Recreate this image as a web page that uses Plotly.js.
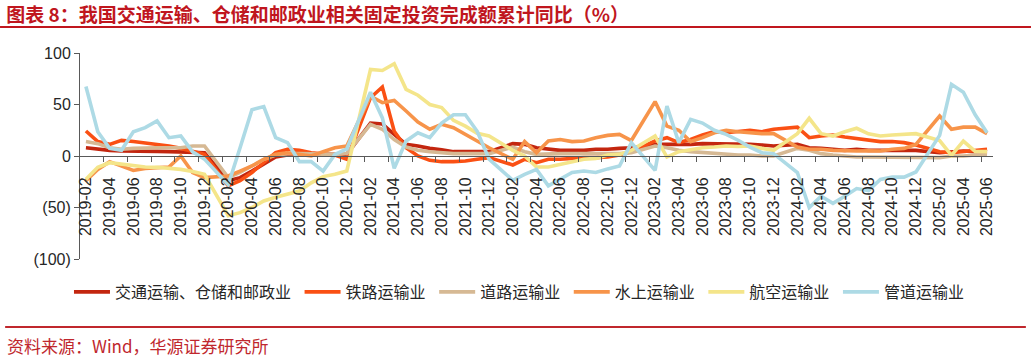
<!DOCTYPE html>
<html>
<head>
<meta charset="utf-8">
<script src="https://cdn.plot.ly/plotly-3.0.1.min.js"></script>
<style>
html,body{margin:0;padding:0;background:#fff;}
#chart{width:1031px;height:360px;}
</style>
</head>
<body>
<div id="chart"></div>
<script>
// Months (January values are not published: null)
const months = [
 "2019-02","2019-03","2019-04","2019-05","2019-06","2019-07","2019-08","2019-09","2019-10","2019-11","2019-12",
 "2020-01","2020-02","2020-03","2020-04","2020-05","2020-06","2020-07","2020-08","2020-09","2020-10","2020-11","2020-12",
 "2021-01","2021-02","2021-03","2021-04","2021-05","2021-06","2021-07","2021-08","2021-09","2021-10","2021-11","2021-12",
 "2022-01","2022-02","2022-03","2022-04","2022-05","2022-06","2022-07","2022-08","2022-09","2022-10","2022-11","2022-12",
 "2023-01","2023-02","2023-03","2023-04","2023-05","2023-06","2023-07","2023-08","2023-09","2023-10","2023-11","2023-12",
 "2024-01","2024-02","2024-03","2024-04","2024-05","2024-06","2024-07","2024-08","2024-09","2024-10","2024-11","2024-12",
 "2025-01","2025-02","2025-03","2025-04","2025-05","2025-06"
];

const totalTransport = [
 8, 6.5, 5.5, 4.9, 4.5, 4.5, 4.5, 4.2, 4, 3.8, 3.2,
 null, -24, -21, -14.6, -7.4, -1, 1, 1.6, 1.6, 1.6, 1.6, 1.6,
 null, 32, 31, 21, 11.3, 9.7, 7.4, 6, 4.2, 4.2, 4.2, 4.2,
 null, 12, 11.3, 8, 6.5, 5.5, 5.5, 5.5, 6.5, 6.5, 7.4, 8,
 null, 11.3, 11.3, 10.7, 11.3, 12, 12, 12, 12, 11.3, 10.7, 9.7,
 null, 11.3, 8, 7.4, 6.5, 5.5, 6.5, 5.5, 5.5, 5.5, 5.5, 5.5,
 null, 3.2, 4.2, 4.9, 4.2, 4.2
];
const railway = [
 24.3, 14, 11.3, 15.2, 14, 12.6, 11.3, 9.7, 7.4, 4.9, 1.6,
 null, -29, -24, -16, -6.5, 3.2, 6.5, 5.5, 3.2, 2.3, 1, -3.2,
 null, 56.6, 67, 24, 8, 0, -4.2, -5.5, -5.5, -4.9, -3.2, -1.6,
 null, -8.7, -3.2, -6.5, -3.2, -3.2, -2.3, -1.6, -1.6, -1, 1, 4.2,
 null, 14.6, 17.8, 13, 16, 20.4, 23.6, 22.6, 23.6, 25, 23.6, 26,
 null, 28, 17.8, 19.4, 20.4, 18.4, 17, 15, 14, 14, 13, 10.7,
 null, 4.2, 3.2, 4.2, 4.9, 6.5
];
const road = [
 14, 12, 8, 6.5, 7.4, 8, 8, 8, 8, 9.7, 9.7,
 null, -21, -16, -9.7, -3.2, 1, 2.3, 2.3, 2.3, 1.6, 1.6, 2.5,
 null, 30.7, 26, 16, 8.7, 5.5, 4.2, 3.2, 2.3, 2.3, 2.3, 2.3,
 null, 8.7, 4.2, 1.6, 2.3, 2.3, 2.3, 2.3, 2.3, 1.6, 2.3, 3.2,
 null, 9.7, 8, 5.5, 4.2, 3.2, 2.3, 1.6, 1, 1, 0, 0,
 null, 7.4, 5.5, 2.3, 1, 0, -1, -1, -1, -1, -1, -1,
 null, -1.6, 0, 0, 1, 1
];
const water = [
 -24, -13, -5.5, -9.7, -14, -12, -11.3, -10.7, 0, -16, -21,
 null, -19.4, -14.6, -9.7, -3.2, 1.6, 3.2, 1.6, 0, 4.2, 8, 9.7,
 null, 58, 51.8, 54, 43.7, 33, 26, 30.7, 27.5, 21, 14.6, 8,
 null, -3.2, 14, 3.2, 14.6, 16, 14, 14.6, 17.8, 20, 21, 15,
 null, 52.8, 29, 25, 14, 17.8, 22.6, 25, 23.6, 22.6, 21.7, 21.7,
 null, 8.7, 6.5, 6.5, 5.5, 4.9, 4.9, 5, 4.9, 6.5, 7.4, 11.3,
 null, 38.8, 26, 28, 28, 21.7
];
const aviation = [
 -22.6, -11, -6.5, -8, -8.7, -10.7, -11, -12, -13, -15, -17.8,
 null, -58, -55, -50, -43.7, -40, -37, -34, -26, -20, -17.8, -14.5,
 null, 84, 83, 89.6, 64.7, 59, 50, 47, 34.6, 29, 22, 19.4,
 null, 5.5, 0, -10.7, -10.7, -8, -5.5, -3.2, -2.3, 1, 1.6, 5.5,
 null, 19.4, -1, 4.2, 6.5, 8, 8.7, 9.7, 9.2, 9.7, 7.4, 5.5,
 null, 21.7, 36.6, 21.7, 19.4, 23.6, 26.9, 21.5, 19.4, 20.4, 21, 21.7,
 null, 15, 0.5, 14.5, 4.5, 4.2
];
const pipeline = [
 67.5, 23.6, 7.4, 5.5, 23.6, 27.5, 34, 17.8, 19.4, 4, -3,
 null, -28, 8, 45, 48, 17.8, 13, -5.5, -5.5, -14.6, 1.6, 7,
 null, 62, 37, -12, 14.6, 22.6, 17.8, 32, 40, 40, 24, -3,
 null, -23.6, -17.8, -13, -29, -22.6, -16, -14.6, -16, -12.5, -9.7, 13,
 null, -14, 48.5, 13, 35.6, 32, 25, 21, 15.3, 8.7, 3.2, 2.3,
 null, -16, -50, -39, -46, -39, -31.6, -33.5, -22.8, -20.5, -20.5, -15.5,
 null, 20, 69.6, 62, 40, 22.6
];

const seriesNames = ["交通运输、仓储和邮政业","铁路运输业","道路运输业","水上运输业","航空运输业","管道运输业"];
const seriesColors = ["#C3260F","#FA5014","#D6B994","#F7944A","#F4E58A","#ADDAE5"];
const seriesValues = [totalTransport, railway, road, water, aviation, pipeline];

const yTickVals = [-100, -50, 0, 50, 100];
const yTickText = ["(100)", "(50)", "0", "50", "100"];

const xIdx = months.map((m, i) => i);
const labelIdx = xIdx.filter(i => i % 2 === 0);
const labelText = labelIdx.map(i => months[i]);
const boundaryTicks = xIdx.filter(i => i % 2 === 1 && i < months.length - 1).map(i => i + 0.5);

const traces = seriesValues.map((vals, k) => ({
  type: 'scatter', mode: 'lines',
  x: xIdx, y: vals,
  name: seriesNames[k] + '\u00A0',
  connectgaps: true,
  line: {color: seriesColors[k], width: 3.6},
  hoverinfo: 'skip'
}));

const axisColor = '#595959';
const layout = {
  width: 1031, height: 360,
  margin: {l: 80, r: 38, t: 53, b: 101},
  paper_bgcolor: '#fff', plot_bgcolor: '#fff',
  showlegend: true,
  title: {
    text: '图表 8：我国交通运输、仓储和邮政业相关固定投资完成额累计同比（%）',
    x: 0.006, xref: 'container', xanchor: 'left',
    y: 1 - 15/360, yref: 'container', yanchor: 'middle',
    font: {family: '"Noto Sans CJK SC", sans-serif', size: 19, color: '#C0161E', weight: 700}
  },
  xaxis: {
    type: 'linear', range: [-0.5, months.length - 0.5],
    anchor: 'free', position: 0.5,
    showline: true, linecolor: axisColor, linewidth: 1,
    showgrid: false, zeroline: false,
    tickmode: 'array', tickvals: labelIdx, ticktext: labelText,
    ticks: '', tickangle: -90, ticklabelstandoff: 14,
    tickfont: {family: '"Liberation Sans", Arial, sans-serif', size: 16, color: '#262626'},
    minor: {tickmode: 'array', tickvals: boundaryTicks, ticks: 'outside', ticklen: 5, tickcolor: axisColor, showgrid: false}
  },
  yaxis: {
    range: [-100, 100],
    showline: true, linecolor: axisColor, linewidth: 1,
    showgrid: false, zeroline: false,
    tickmode: 'array', tickvals: yTickVals, ticktext: yTickText,
    ticks: 'outside', ticklen: 5, tickcolor: axisColor,
    tickfont: {family: '"Liberation Sans", Arial, sans-serif', size: 16, color: '#262626'}
  },
  legend: {
    orientation: 'h', x: 0.483, xanchor: 'center', y: -0.16, yanchor: 'middle',
    itemwidth: 36,
    font: {family: '"Noto Sans CJK SC", sans-serif', size: 16, color: '#262626'},
    bgcolor: 'rgba(0,0,0,0)'
  },
  shapes: [
    {type: 'line', xref: 'paper', yref: 'paper', x0: -0.0876, x1: 1.0416, y0: 1.126, y1: 1.126,
     line: {color: '#C0161E', width: 2}},
    {type: 'line', xref: 'paper', yref: 'paper', x0: -0.082, x1: 1.036, y0: -0.330, y1: -0.330,
     line: {color: '#C0272D', width: 2}}
  ],
  annotations: [
    {text: '资料来源：Wind，华源证券研究所', xref: 'paper', yref: 'paper',
     x: -0.082, xanchor: 'left', y: -0.4175, yanchor: 'middle', showarrow: false,
     font: {family: '"Noto Sans CJK SC", sans-serif', size: 17, color: '#C0272D'}}
  ]
};

Plotly.newPlot('chart', traces, layout, {displayModeBar: false, staticPlot: true});
</script>
</body>
</html>
